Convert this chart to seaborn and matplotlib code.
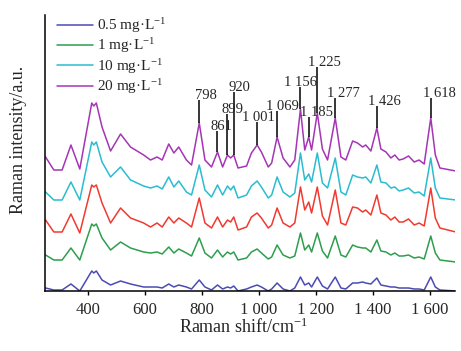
import numpy as np
import matplotlib
matplotlib.use("Agg")
import matplotlib.pyplot as plt
import seaborn as sns

# ============================================================
# Data (intensity in arbitrary units)
# ============================================================

raman_shift = [252, 281, 310, 341, 372, 414, 421, 430, 450, 480,
               515, 550, 596, 620, 643, 661, 684, 702, 719, 746,
               764, 791, 811, 834, 855, 873, 890, 901, 912, 927,
               957, 974, 994, 1009, 1033, 1045, 1064, 1085, 1109, 1126,
               1146, 1161, 1175, 1185, 1205, 1223, 1241, 1268, 1288, 1305,
               1329, 1346, 1364, 1375, 1393, 1414, 1428, 1446, 1463, 1477,
               1492, 1506, 1525, 1545, 1562, 1580, 1603, 1619, 1635, 1691]

# 0.5 mg/L (blue)
int_05 = [3, 1, 1, 7, 0, 20, 18, 20, 11, 6,
          10, 7, 4, 4, 4, 3, 7, 4, 6, 4,
          2, 11, 4, 1, 6, 2, 4, 3, 5, 0,
          2, 4, 6, 4, 0, 2, 8, 2, 0, 3,
          14, 6, 8, 4, 14, 5, 2, 14, 3, 2,
          8, 8, 9, 8, 7, 13, 6, 5, 4, 4,
          3, 3, 3, 2, 2, 1, 14, 4, 1, 0]

# 1 mg/L (green)
int_1 = [36, 31, 31, 43, 31, 67, 65, 67, 53, 41,
         49, 43, 39, 38, 39, 37, 44, 38, 42, 38,
         35, 53, 38, 33, 41, 34, 39, 37, 39, 31,
         33, 39, 42, 38, 32, 34, 46, 36, 33, 35,
         58, 41, 46, 39, 58, 40, 33, 55, 36, 34,
         46, 44, 43, 43, 39, 51, 40, 39, 36, 38,
         35, 35, 36, 33, 34, 32, 55, 38, 31, 29]

# red curve (no legend entry in the original)
int_red = [71, 59, 59, 77, 58, 106, 104, 106, 88, 68,
           83, 73, 68, 64, 68, 64, 74, 68, 73, 68,
           64, 93, 68, 63, 74, 64, 71, 69, 74, 61,
           64, 74, 78, 73, 63, 66, 83, 68, 64, 68,
           104, 81, 89, 78, 104, 75, 66, 101, 68, 66,
           84, 83, 79, 81, 76, 96, 78, 76, 71, 74,
           69, 69, 72, 66, 68, 65, 103, 73, 63, 59]

# 10 mg/L (cyan)
int_10 = [99, 91, 91, 109, 91, 149, 146, 149, 129, 114,
          124, 111, 105, 103, 105, 102, 114, 104, 110, 99,
          96, 126, 101, 94, 106, 96, 105, 101, 105, 93,
          96, 105, 110, 104, 93, 96, 114, 99, 94, 98,
          138, 111, 117, 109, 138, 108, 103, 133, 99, 96,
          116, 114, 113, 114, 108, 126, 109, 108, 103, 104,
          100, 101, 103, 98, 99, 95, 133, 103, 93, 91]

# 20 mg/L (purple)
int_20 = [134, 121, 121, 146, 122, 188, 185, 188, 164, 140,
          157, 144, 136, 131, 134, 131, 147, 138, 144, 131,
          126, 168, 131, 124, 139, 124, 136, 133, 136, 123,
          125, 138, 146, 139, 124, 128, 154, 133, 124, 131,
          182, 141, 154, 141, 178, 142, 131, 173, 134, 131,
          150, 148, 144, 146, 140, 163, 142, 139, 133, 136,
          131, 132, 135, 129, 131, 127, 173, 136, 123, 120]

# peaks marked on the top spectrum (where they sit on the axis)
peak_pos = [791, 855, 890, 912, 994, 1064, 1146, 1175, 1205, 1268, 1414, 1603]
peak_labels = ["798", "861", "899", "920", "1 001", "1 069",
               "1 156", "1 185", "1 225", "1 277", "1 426", "1 618"]

xtick_vals = [400, 600, 800, 1000, 1200, 1400, 1600]
xtick_labels = ["400", "600", "800", "1 000", "1 200", "1 400", "1 600"]

# layout of the peak labels: top of the marker line, text shift (px)
label_top = [191, 160, 177, 199, 169, 180, 204, 174, 224, 193, 185, 193]
label_dx = [7, 4, 5, 6, 1, 5, 0, 8, 7, 8, 7, 9]

# ============================================================
# Figure
# ============================================================

sns.set_theme(style="ticks")
plt.rcParams["font.family"] = ["Liberation Serif", "DejaVu Serif"]
plt.rcParams["mathtext.fontset"] = "custom"
plt.rcParams["mathtext.rm"] = "Liberation Serif"
plt.rcParams["mathtext.it"] = "Liberation Serif:italic"

fig = plt.figure(figsize=(4.61, 3.51), dpi=100)
ax = fig.add_axes([45 / 461, 60 / 351, 410 / 461, 276 / 351])

series = [
    (int_05, "#4b4bb5", "0.5 mg·L$^{-1}$"),
    (int_1, "#2e9e4e", "1 mg·L$^{-1}$"),
    (int_red, "#f03a30", None),
    (int_10, "#2bbcd0", "10 mg·L$^{-1}$"),
    (int_20, "#a535b5", "20 mg·L$^{-1}$"),
]
for vals, col, lab in series:
    sns.lineplot(x=raman_shift, y=vals, color=col, lw=1.1, label=lab, ax=ax)

# peak markers
for pos, lab, top, dx in zip(peak_pos, peak_labels, label_top, label_dx):
    y0 = np.interp(pos, raman_shift, int_20)
    ax.vlines(pos, y0, top, color="black", lw=1.1)
    ax.annotate(lab, xy=(pos, top), xytext=(dx * 0.72, 1),
                textcoords="offset points", ha="center", va="baseline",
                fontsize=10.5)

ax.set_xlim(250, 1688)
ax.set_ylim(0, 276)
ax.set_xticks(xtick_vals, xtick_labels)
ax.set_yticks([])
ax.tick_params(axis="x", direction="out", length=3, width=1,
               labelsize=12, pad=5, color="black")
sns.despine(ax=ax)
for side in ["left", "bottom"]:
    ax.spines[side].set_linewidth(1.1)
    ax.spines[side].set_color("black")

ax.set_xlabel(r"Raman shift/cm$^{-1}$", fontsize=13)
ax.xaxis.set_label_coords(0.485, -0.098)
ax.set_ylabel("Raman intensity/a.u.", fontsize=13)
ax.yaxis.set_label_coords(-0.044, 0.547)

ax.legend(loc="upper left", bbox_to_anchor=(57 / 461, 1 - 16 / 351),
          bbox_transform=fig.transFigure, frameon=False, fontsize=11,
          borderpad=0, borderaxespad=0, handlelength=2.35,
          handletextpad=0.3, labelspacing=0.1)

fig.savefig("out.png", dpi=100)
